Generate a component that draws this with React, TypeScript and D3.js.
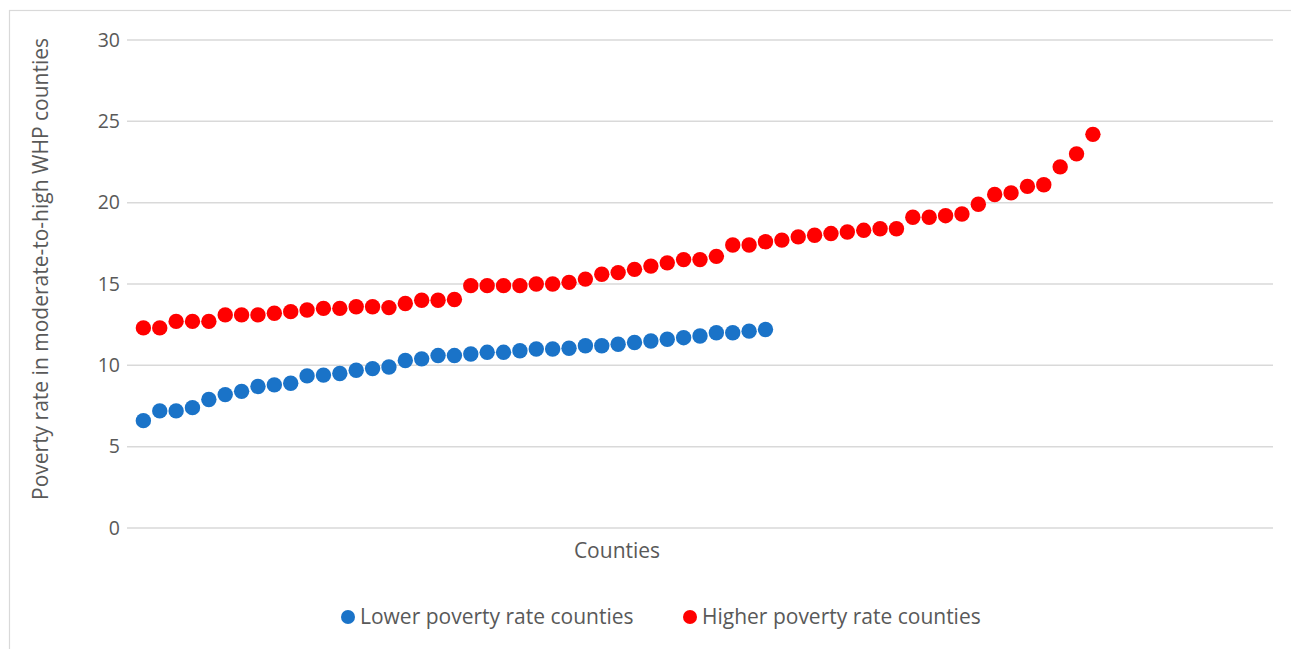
import React from "react";
import * as d3 from "d3";

const lowerRates = [
  6.6, 7.2, 7.2, 7.4, 7.9, 8.2, 8.4, 8.7, 8.8, 8.9,
  9.35, 9.4, 9.5, 9.7, 9.8, 9.9, 10.3, 10.4, 10.6, 10.6,
  10.7, 10.8, 10.8, 10.9, 11.0, 11.0, 11.05, 11.2, 11.2, 11.3,
  11.4, 11.5, 11.6, 11.7, 11.8, 12.0, 12.0, 12.1, 12.2,
];

const higherRates = [
  12.3, 12.3, 12.7, 12.7, 12.7, 13.1, 13.1, 13.1, 13.2, 13.3,
  13.4, 13.5, 13.5, 13.6, 13.6, 13.55, 13.8, 14.0, 14.0, 14.05,
  14.9, 14.9, 14.9, 14.9, 15.0, 15.0, 15.1, 15.3, 15.6, 15.7,
  15.9, 16.1, 16.3, 16.5, 16.5, 16.7, 17.4, 17.4, 17.6, 17.7,
  17.9, 18.0, 18.1, 18.2, 18.3, 18.4, 18.4, 19.1, 19.1, 19.2,
  19.3, 19.9, 20.5, 20.6, 21.0, 21.1, 22.2, 23.0, 24.2,
];

const yTicks = [0, 5, 10, 15, 20, 25, 30];
const seriesNames = ["Lower poverty rate counties", "Higher poverty rate counties"];
const seriesColors = ["#1a73c8", "#ff0000"];
const xTitle = "Counties";
const yTitle = "Poverty rate in moderate-to-high WHP counties";

const W = 1291;
const H = 649;
const FONT = "'Open Sans', sans-serif";
const TEXT = "#595959";
const FS_TICK = 19.5;
const FS = 21;

export default function App() {
  const x = d3.scaleLinear().domain([0, 70]).range([127, 1273]);
  const y = d3.scaleLinear().domain([0, 30]).range([528, 40]);
  const series = [lowerRates, higherRates];
  const r = 7.7;

  return (
    <svg
      width={W}
      height={H}
      style={{ position: "absolute", left: 0, top: 0, background: "#fff" }}
      fontFamily={FONT}
    >
      <rect x={9.5} y={10.5} width={W + 10} height={H + 10} fill="#fff" stroke="#d9d9d9" strokeWidth={1.2} />
      {yTicks.map((t) => (
        <g key={t}>
          <line x1={x(0)} x2={x(70)} y1={y(t)} y2={y(t)} stroke="#d9d9d9" strokeWidth={1.5} />
          <text x={120} y={y(t)} dy="0.35em" textAnchor="end" fontSize={FS_TICK} fill={TEXT}>
            {t}
          </text>
        </g>
      ))}
      <text
        transform={`translate(${48},${269}) rotate(-90)`}
        textAnchor="middle"
        fontSize={FS}
        fill={TEXT}
      >
        {yTitle}
      </text>
      <text x={617} y={551} dy="0.35em" textAnchor="middle" fontSize={FS} fill={TEXT}>
        {xTitle}
      </text>
      {series.map((vals, si) => (
        <g key={si}>
          {vals.map((v, i) => (
            <circle key={i} cx={x(i + 1)} cy={y(v)} r={r} fill={seriesColors[si]} />
          ))}
        </g>
      ))}
      <g>
        <circle cx={348} cy={617} r={7} fill={seriesColors[0]} />
        <text x={360} y={617} dy="0.35em" fontSize={FS} fill={TEXT}>
          {seriesNames[0]}
        </text>
        <circle cx={690} cy={617} r={7} fill={seriesColors[1]} />
        <text x={702} y={617} dy="0.35em" fontSize={FS} fill={TEXT}>
          {seriesNames[1]}
        </text>
      </g>
    </svg>
  );
}
